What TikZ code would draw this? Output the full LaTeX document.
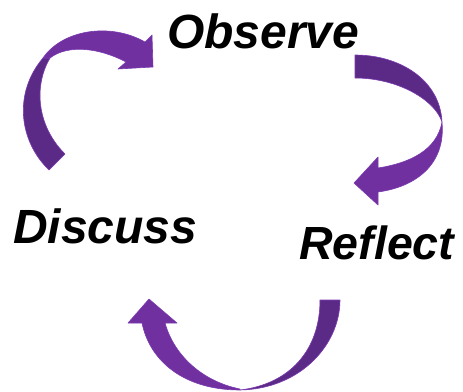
\documentclass[tikz,border=0pt]{standalone}
\usepackage{fontspec}
\setmainfont{Liberation Sans}
\definecolor{plight}{HTML}{7030A0}
\definecolor{pdark}{HTML}{5B2A86}
\definecolor{pedge}{HTML}{7B3BB0}
\begin{document}
\begin{tikzpicture}[x=1pt,y=-1pt,
  lbl/.style={anchor=base west,inner sep=0pt,font=\bfseries\itshape\fontsize{48}{48}\selectfont},
  lightpart/.style={fill=plight,draw=pedge,line width=0.6pt,line join=round},
  darkpart/.style={fill=pdark,draw=pedge,line width=0.6pt,line join=round}]
\useasboundingbox (0,0) rectangle (463,391);
% texts
\node[lbl] (observe) at (167,48) {Observe};
\node[lbl] (discuss) at (13,243) {Discuss};
\node[lbl,font=\bfseries\itshape\fontsize{46.5}{46.5}\selectfont] (reflect) at (299,259) {Reflect};
% top-left arrow
\path[darkpart] (43,58) .. controls (14,92) and (18,140) .. (49,170) -- (65,154)
  .. controls (36,125) and (34,85) .. (50,58) -- cycle;
\path[lightpart] (43,58) .. controls (62,30) and (110,22) .. (145,42) -- (152,35) -- (153,67) -- (118,69)
  -- (126,62) .. controls (100,48) and (68,44) .. (50,58) -- cycle;
% right arrow
\path[darkpart] (355,55) .. controls (400,55) and (440,80) .. (442,122)
  .. controls (435,100) and (398,78) .. (355,78) -- cycle;
\path[lightpart] (442,122) .. controls (446,165) and (415,187) .. (378,192) -- (378,205) -- (354,183)
  -- (378,157) -- (378,168) .. controls (410,163) and (437,150) .. (442,122) -- cycle;
% bottom arrow
\path[darkpart] (320,300) -- (340,300) .. controls (340,345) and (300,389) .. (240,390)
  .. controls (290,384) and (320,350) .. (320,300) -- cycle;
\path[lightpart] (240,390) .. controls (185,390) and (150,362) .. (142,323) -- (128,323) -- (149,299)
  -- (177,323) -- (165,323) .. controls (175,358) and (205,382) .. (240,389) -- cycle;
\end{tikzpicture}
\end{document}
